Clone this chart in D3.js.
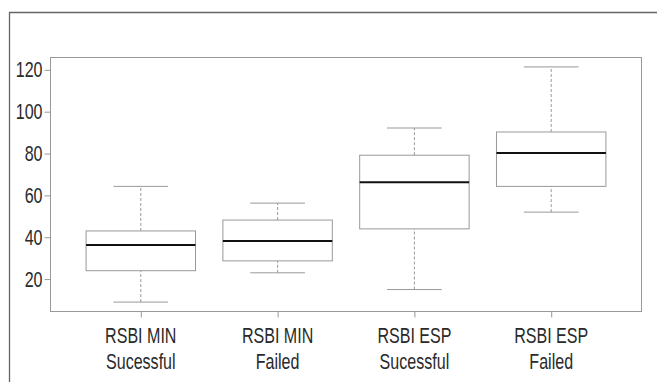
<!DOCTYPE html>
<html>
<head>
<meta charset="utf-8">
<script src="https://cdn.jsdelivr.net/npm/d3@7"></script>
<style>
  html, body { margin: 0; padding: 0; background: #fff; }
  svg text { font-family: "Liberation Sans", Arial, sans-serif; fill: #2a2a2a; }
</style>
</head>
<body>
<svg id="chart" width="657" height="382"></svg>
<script>
// one entry per group
const groupLines = [
    ["RSBI MIN", "Sucessful"],
    ["RSBI MIN", "Failed"],
    ["RSBI ESP", "Sucessful"],
    ["RSBI ESP", "Failed"]
];
const whiskerLow  = [9, 23, 15, 52];
const quartile1   = [24, 28.7, 44, 64.3];
const medians     = [36.3, 38.2, 66.3, 80.3];
const quartile3   = [43, 48.2, 79.2, 90.3];
const whiskerHigh = [64.3, 56.3, 92.2, 121.4];
const yTicks = [20, 40, 60, 80, 100, 120];

window.Box = window.Box || {};

Box.setup = {
    initConst: function() {
        Box.width = 657;
        Box.height = 382;
        Box.plot = { left: 50.5, right: 641.5, top: 57.5, bottom: 311.5 };
        Box.boxWidth = 0.8;
        Box.squeeze = 0.73;   // narrow face faked with a horizontal scale
        Box.fontSize = 22;
    },

    initScales: function() {
        let lo = d3.min(whiskerLow), hi = d3.max(whiskerHigh);
        let pad = (hi - lo) * 0.04;
        Box.y = d3.scaleLinear()
            .domain([lo - pad, hi + pad])
            .range([Box.plot.bottom, Box.plot.top]);
        let n = groupLines.length;
        let xpad = n * 0.04;
        Box.x = d3.scaleLinear()
            .domain([0.5 - xpad, n + 0.5 + xpad])
            .range([Box.plot.left, Box.plot.right]);
    }
};

Box.core = {
    draw: function() {
        Box.svg = d3.select('#chart');

        // outer frame: top and left edges only show
        Box.svg.append('path')
            .attr('d', 'M9.5,382 L9.5,12.5 L657,12.5')
            .attr('fill', 'none')
            .attr('stroke', '#666')
            .attr('stroke-width', 1.3);

        Box.core.drawAxes();
        groupLines.forEach(function(g, i) { Box.core.drawBox(i); });

        // plot frame
        Box.svg.append('rect')
            .attr('x', Box.plot.left).attr('y', Box.plot.top)
            .attr('width', Box.plot.right - Box.plot.left)
            .attr('height', Box.plot.bottom - Box.plot.top)
            .attr('fill', 'none')
            .attr('stroke', '#999');
    },

    drawAxes: function() {
        let yAxis = d3.axisLeft(Box.y).tickValues(yTicks).tickSize(6).tickPadding(1.5);
        let gy = Box.svg.append('g')
            .attr('transform', 'translate(' + Box.plot.left + ',0)')
            .call(yAxis);
        gy.select('.domain').remove();
        gy.selectAll('line').attr('stroke', '#999');
        gy.selectAll('text')
            .attr('font-size', Box.fontSize)
            .attr('x', -8 / Box.squeeze)
            .attr('transform', 'scale(' + Box.squeeze + ',1)');

        let xAxis = d3.axisBottom(Box.x)
            .tickValues(d3.range(1, groupLines.length + 1))
            .tickSize(6).tickFormat('');
        let gx = Box.svg.append('g')
            .attr('transform', 'translate(0,' + Box.plot.bottom + ')')
            .call(xAxis);
        gx.select('.domain').remove();
        gx.selectAll('line').attr('stroke', '#999');

        groupLines.forEach(function(lines, i) {
            let t = Box.svg.append('g')
                .attr('transform', 'translate(' + Box.x(i + 1) + ',0) scale(' + Box.squeeze + ',1)')
                .append('text')
                .attr('text-anchor', 'middle')
                .attr('font-size', Box.fontSize);
            lines.forEach(function(s, k) {
                t.append('tspan')
                    .attr('x', 0)
                    .attr('y', 343 + k * 26)
                    .text(s);
            });
        });
    },

    drawBox: function(i) {
        let cx = Box.x(i + 1);
        let half = Box.x(i + 1 + Box.boxWidth / 2) - cx;
        let g = Box.svg.append('g');

        // dashed whiskers
        [[whiskerLow[i], quartile1[i]], [quartile3[i], whiskerHigh[i]]].forEach(function(seg) {
            g.append('line')
                .attr('x1', cx).attr('x2', cx)
                .attr('y1', Box.y(seg[0])).attr('y2', Box.y(seg[1]))
                .attr('stroke', '#999')
                .attr('stroke-dasharray', '3,2');
        });

        // staples
        [whiskerLow[i], whiskerHigh[i]].forEach(function(v) {
            g.append('line')
                .attr('x1', cx - half / 2).attr('x2', cx + half / 2)
                .attr('y1', Box.y(v)).attr('y2', Box.y(v))
                .attr('stroke', '#999');
        });

        g.append('rect')
            .attr('x', cx - half)
            .attr('y', Box.y(quartile3[i]))
            .attr('width', half * 2)
            .attr('height', Box.y(quartile1[i]) - Box.y(quartile3[i]))
            .attr('fill', '#fff')
            .attr('stroke', '#999');

        g.append('line')
            .attr('x1', cx - half).attr('x2', cx + half)
            .attr('y1', Box.y(medians[i])).attr('y2', Box.y(medians[i]))
            .attr('stroke', '#111')
            .attr('stroke-width', 2);
    }
};

Box.init = function() {
    Box.setup.initConst();
    Box.setup.initScales();
    Box.core.draw();
};

Box.init();
</script>
</body>
</html>
